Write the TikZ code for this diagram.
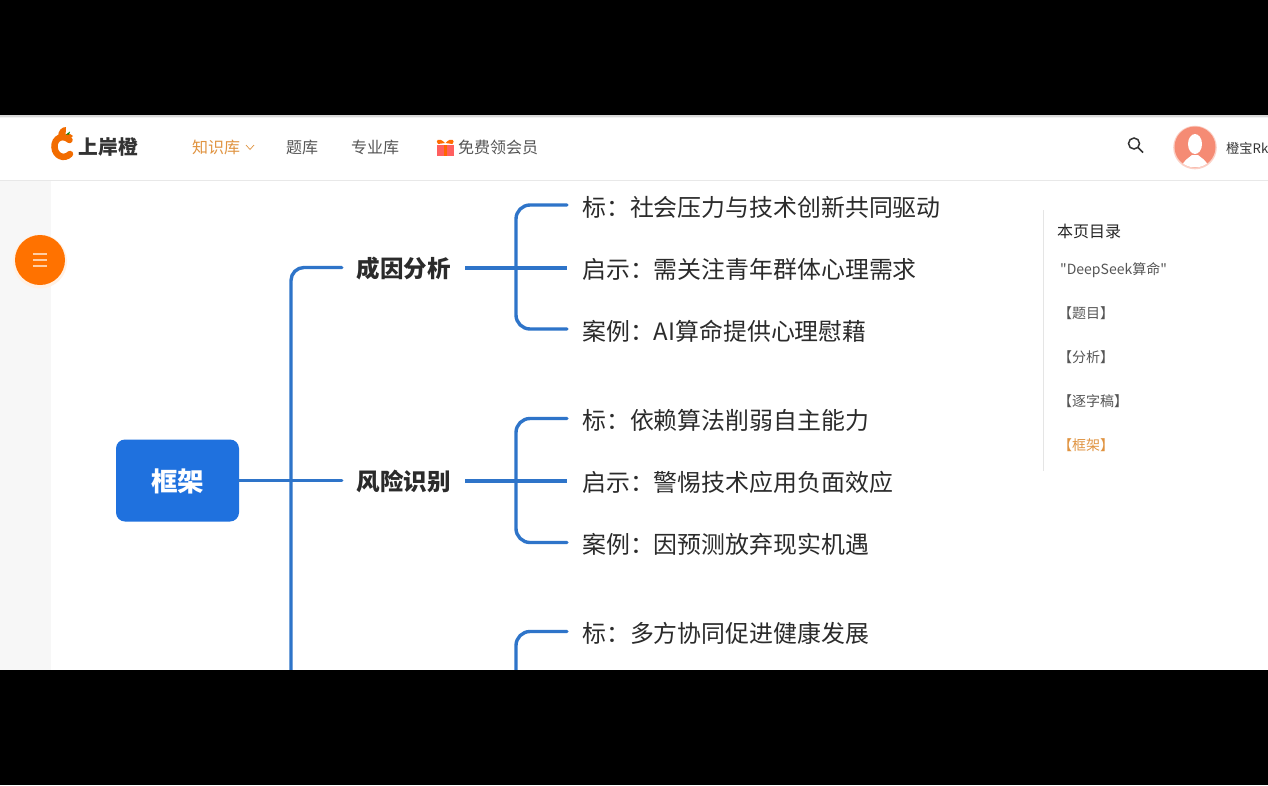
\documentclass[tikz,border=0pt]{standalone}
\usepackage{fontspec}
\setmainfont{Noto Sans CJK SC}
\newfontfamily\plaincjk{Noto Sans CJK SC}
\usetikzlibrary{shadows}
\definecolor{linkblue}{HTML}{2E74C9}
\definecolor{rootblue}{HTML}{1F71DE}
\definecolor{inkdark}{HTML}{2B2B2B}
\definecolor{navgray}{HTML}{555555}
\definecolor{navorange}{HTML}{E09340}
\definecolor{btnorange}{HTML}{FF7200}
\definecolor{avatarc}{HTML}{F58B74}
\tikzset{
  x=1pt,y=-1pt,
  conn/.style={draw=linkblue,line width=3.4pt,line cap=round},
  stub/.style={draw=linkblue,line width=4pt},
  rootbox/.style={fill=rootblue,rounded corners=9pt,minimum width=123pt,minimum height=82pt,inner sep=0pt,text=white,font=\fontsize{26.5}{27}\selectfont\bfseries},
  topic/.style={inner xsep=14.5pt,inner ysep=0pt,text height=21pt,text depth=4pt,text=inkdark,font=\fontsize{23.5}{24}\selectfont\bfseries},
  leaf/.style={anchor=west,inner xsep=15pt,inner ysep=0pt,text height=21pt,text depth=4pt,text=inkdark,font=\fontsize{23.9}{24}\selectfont},
  nav/.style={anchor=west,inner sep=0pt,text height=14pt,text depth=3pt,text=navgray,font=\fontsize{16}{16}\selectfont},
  toc/.style={anchor=west,inner sep=0pt,text height=12pt,text depth=3pt,text=navgray,font=\fontsize{14}{14}\selectfont},
}
\begin{document}
\begin{tikzpicture}
\useasboundingbox (0,0) rectangle (1268,785);
\clip (0,0) rectangle (1268,785);
\fill[white] (0,0) rectangle (1268,785);
% sidebar and header
\fill[black!3] (0,181) rectangle (51,670);
\fill[black!9] (0,179.5) rectangle (1268,181);
% menu button
\fill[btnorange!10] (40,261.5) circle (27);
\node[circle,fill=btnorange,minimum size=50pt,inner sep=0pt] (menu) at (40,260) {};
\foreach \yy in {254,260,266}{\draw[white!65!btnorange,line width=1.3pt] (33,\yy) -- (47,\yy);}
% logo
\draw[btnorange!95!black,line width=6.5pt,line cap=round] (69.5,140) .. controls (63,134) and (54,138) .. (54.5,147) .. controls (55,156) and (64,160) .. (70,154);
\fill[btnorange!95!black] (58,137) .. controls (58,130) and (62,127) .. (66,127) .. controls (66,132) and (66,136) .. (62,140) -- cycle;
\fill[btnorange!95!black] (64,136) .. controls (66,133) and (70,133) .. (73,136) .. controls (70,139) and (66,140) .. (64,138) -- cycle;
\fill[green!50!black] (66,134.5) -- (70,131.5) -- (69,134.5) -- cycle;
\node[anchor=west,inner sep=0pt,text=black!80,font=\fontsize{19.7}{20}\selectfont\bfseries] (logotext) at (78.5,147.5) {上岸橙};
% nav
\node[nav,text=navorange] (n1) at (192,148) {知识库};
\draw[navorange,line width=.7pt] (246,145) -- (250,149.5) -- (254,145);
\node[nav] (n2) at (286,148) {题库};
\node[nav] (n3) at (351,148) {专业库};
\fill[red!65!pink!85!white] (437,144.5) rectangle (453.5,156);
\fill[orange!80!red] (443.5,144.5) rectangle (447,156);
\fill[orange!85!red] (445,143) .. controls (438,136) and (435,141) .. (438,144) -- cycle;
\fill[orange!85!red] (445.5,143) .. controls (452,136) and (455.5,141) .. (452.5,144) -- cycle;
\node[nav] (n4) at (458,148) {免费领会员};
% search
\draw[black!80,line width=1.5pt] (1134,143.5) circle (5.5);
\draw[black!80,line width=1.7pt] (1138,147.5) -- (1143,152.5);
% avatar
\fill[avatarc!40] (1195,147.5) circle (21.8);
\node[circle,fill=avatarc,minimum size=41pt,inner sep=0pt] (avatar) at (1195,147) {};
\begin{scope}
\clip (1195,147) circle (20.5);
\fill[white] (1195,144) ellipse (7 and 10);
\fill[white] (1182,167) .. controls (1183,160) and (1189,158) .. (1192,155) -- (1198,155) .. controls (1201,158) and (1207,160) .. (1208,167) -- cycle;
\end{scope}
\node[nav,font=\fontsize{13.2}{14}\selectfont,text=black!80] (user) at (1226,148) {橙宝Rk};
% toc
\draw[black!10,line width=1pt] (1043.5,210) -- (1043.5,471);
\node[nav,text=black!85] (tt) at (1057,232) {本页目录};
\node[toc,font=\plaincjk\fontsize{14}{14}\selectfont] (t1) at (1060,270) {"DeepSeek算命"};
\node[toc] (t2) at (1058,314) {【题目】};
\node[toc] (t3) at (1058,358) {【分析】};
\node[toc] (t4) at (1058,402) {【逐字稿】};
\node[toc,text=navorange] (t5) at (1058,446) {【框架】};
% mind map nodes
\node[rootbox] (root) at (177.5,480.5) {};
\node[inner sep=0pt,text height=23pt,text depth=4pt,text=white,font=\fontsize{26.5}{27}\selectfont\bfseries] (rootlabel) at (177.5,482) {框架};
\node[topic] (a) at (403.5,269) {成因分析};
\node[topic] (b) at (403.5,482) {风险识别};
\node[leaf] (a1) at (567,207.5) {标：社会压力与技术创新共同驱动};
\node[leaf] (a2) at (567,269.5) {启示：需关注青年群体心理需求};
\node[leaf] (a3) at (567,331.5) {案例：AI算命提供心理慰藉};
\node[leaf] (b1) at (567,420.5) {标：依赖算法削弱自主能力};
\node[leaf] (b2) at (567,482.5) {启示：警惕技术应用负面效应};
\node[leaf] (b3) at (567,544.5) {案例：因预测放弃现实机遇};
\node[leaf] (c1) at (567,634) {标：多方协同促进健康发展};
\coordinate (tx) at (291,300);
\coordinate (ax) at (516,300);
\coordinate (tend) at (291,680);
\coordinate (cend) at (516,680);
\coordinate (ay) at (400,267.5);
\coordinate (by) at (400,480.5);
\coordinate (a1y) at (400,205);
\coordinate (a3y) at (400,329);
\coordinate (b1y) at (400,418.5);
\coordinate (b3y) at (400,542.5);
\coordinate (c1y) at (400,631.5);
% connectors
\draw[conn,rounded corners=13pt] (a.west |- ay) -- (tx |- ay) -- (tend);
\draw[conn] (root.east |- by) -- (b.west |- by);
\draw[stub] (a.east |- ay) -- (a2.west |- ay);
\draw[stub] (b.east |- by) -- (b2.west |- by);
\draw[conn,rounded corners=14pt] (a1.west |- a1y) -- (ax |- a1y) -- (ax |- a3y) -- (a3.west |- a3y);
\draw[conn,rounded corners=14pt] (b1.west |- b1y) -- (ax |- b1y) -- (ax |- b3y) -- (b3.west |- b3y);
\draw[conn,rounded corners=14pt] (c1.west |- c1y) -- (ax |- c1y) -- (cend);
% letterbox bands
\fill[black] (0,0) rectangle (1268,115);
\fill[black!15] (0,115) rectangle (1268,116.5);
\fill[black!5] (0,116.5) rectangle (1268,118);
\fill[black] (0,670) rectangle (1268,785);
\end{tikzpicture}
\end{document}
